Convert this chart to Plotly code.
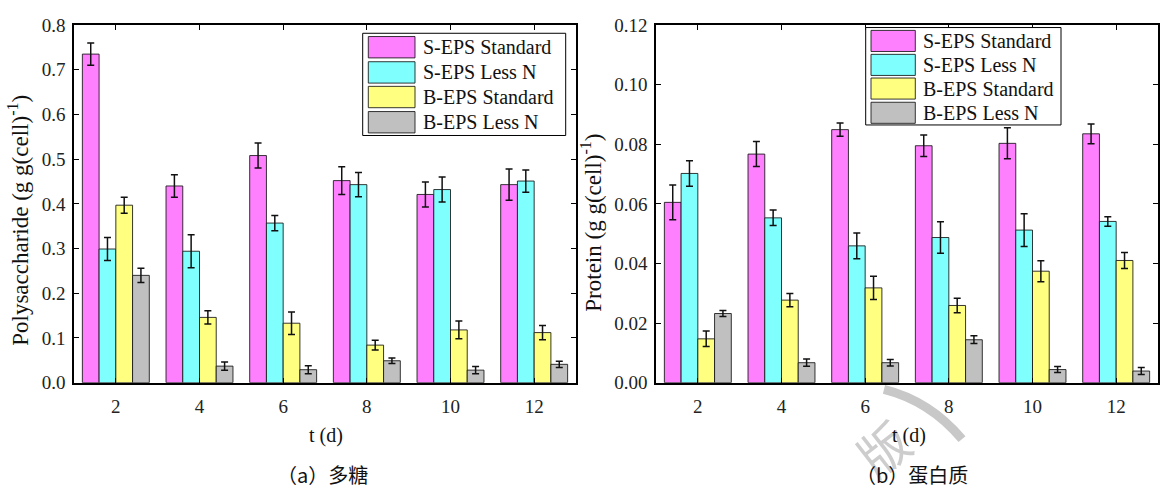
import plotly.graph_objects as go

# Sampling days (x axis)
days = [2, 4, 6, 8, 10, 12]
series_names = ["S-EPS Standard", "S-EPS Less N", "B-EPS Standard", "B-EPS Less N"]
fill_colors = ["#FF80FF", "#80FFFF", "#FFFF80", "#C0C0C0"]

# (a) polysaccharide, g g(cell)^-1
poly_s_std = [0.735, 0.440, 0.508, 0.452, 0.421, 0.443]
poly_s_lessn = [0.299, 0.294, 0.357, 0.443, 0.432, 0.451]
poly_b_std = [0.397, 0.146, 0.133, 0.084, 0.118, 0.112]
poly_b_lessn = [0.240, 0.037, 0.029, 0.049, 0.028, 0.041]
poly_s_std_err = [0.025, 0.025, 0.028, 0.031, 0.028, 0.035]
poly_s_lessn_err = [0.026, 0.037, 0.017, 0.027, 0.028, 0.025]
poly_b_std_err = [0.018, 0.015, 0.025, 0.011, 0.020, 0.016]
poly_b_lessn_err = [0.016, 0.009, 0.009, 0.006, 0.008, 0.007]

# (b) protein, g g(cell)^-1
prot_s_std = [0.0605, 0.0767, 0.0849, 0.0795, 0.0803, 0.0835]
prot_s_lessn = [0.0702, 0.0553, 0.0459, 0.0487, 0.0512, 0.0541]
prot_b_std = [0.0147, 0.0277, 0.0318, 0.0259, 0.0374, 0.0410]
prot_b_lessn = [0.0232, 0.0067, 0.0067, 0.0144, 0.0044, 0.0039]
prot_s_std_err = [0.0058, 0.0042, 0.0022, 0.0036, 0.0052, 0.0033]
prot_s_lessn_err = [0.0043, 0.0026, 0.0043, 0.0053, 0.0055, 0.0016]
prot_b_std_err = [0.0026, 0.0022, 0.0039, 0.0024, 0.0035, 0.0027]
prot_b_lessn_err = [0.0010, 0.0012, 0.0011, 0.0013, 0.0010, 0.0012]

poly_vals = [poly_s_std, poly_s_lessn, poly_b_std, poly_b_lessn]
poly_errs = [poly_s_std_err, poly_s_lessn_err, poly_b_std_err, poly_b_lessn_err]
prot_vals = [prot_s_std, prot_s_lessn, prot_b_std, prot_b_lessn]
prot_errs = [prot_s_std_err, prot_s_lessn_err, prot_b_std_err, prot_b_lessn_err]

W, H = 1161, 500
SERIF = "Times New Roman"
CJK = "Noto Sans CJK SC"


def px(x):
    return x / W


def py(y):
    return 1 - y / H


fig = go.Figure()

for vals, errs, xa, ya in [(poly_vals, poly_errs, "x", "y"), (prot_vals, prot_errs, "x2", "y2")]:
    for name, color, v, e in zip(series_names, fill_colors, vals, errs):
        fig.add_trace(go.Bar(
            x=days, y=v, name=name, xaxis=xa, yaxis=ya,
            marker=dict(color=color, line=dict(color="rgba(20,20,20,0.85)", width=1)),
            error_y=dict(type="data", array=e, visible=True, color="#111111",
                         thickness=1.5, width=3.5),
            showlegend=False,
        ))

axis_common = dict(
    showline=True, linecolor="black", linewidth=1.5, mirror="ticks",
    ticks="inside", ticklen=5, tickwidth=1, tickcolor="black",
    showgrid=False, zeroline=False,
    tickfont=dict(family="Times New Roman, Liberation Serif, serif", size=19, color="#222"),
)

plot_top, plot_bot = 15.7, 389.0
left_x0, left_x1 = 74.0, 576.0
right_x0, right_x1 = 656.0, 1158.0

fig.update_layout(
    width=W, height=H,
    margin=dict(l=0, r=0, t=0, b=0),
    font=dict(family="Times New Roman, Liberation Serif, serif", color="#222"),
    paper_bgcolor="white", plot_bgcolor="white",
    barmode="group", bargap=0.2, bargroupgap=0,
    xaxis=dict(domain=[px(left_x0), px(left_x1)], range=[1, 13],
               tickvals=days, anchor="y", ticklabelstandoff=6, **axis_common),
    yaxis=dict(domain=[py(plot_bot), py(plot_top)], range=[0, 0.8], dtick=0.1,
               tickformat=".1f", anchor="x", ticklabelstandoff=3, **axis_common),
    xaxis2=dict(domain=[px(right_x0), px(right_x1)], range=[1, 13],
                tickvals=days, anchor="y2", ticklabelstandoff=6, **axis_common),
    yaxis2=dict(domain=[py(plot_bot), py(plot_top)], range=[0, 0.12], dtick=0.02,
                tickformat=".2f", anchor="x2", ticklabelstandoff=3, **axis_common),
    showlegend=False,
)

shapes = []
annotations = []

# Faint publisher stamp partly showing under panel (b)
shapes.append(dict(type="path", xref="paper", yref="paper", layer="below",
                   path="M {:.4f},{:.4f} Q {:.4f},{:.4f} {:.4f},{:.4f}".format(
                       px(884), py(396), px(930), py(408), px(962), py(448)),
                   line=dict(color="#c8c8c8", width=9)))
annotations.append(dict(xref="paper", yref="paper", x=px(882), y=py(456),
                        xanchor="center", yanchor="middle", showarrow=False,
                        textangle=-38, text="版",
                        font=dict(family=CJK, size=50, color="#cdcdcd")))

# Boxed legends drawn with wide swatches, one per panel
legend_specs = [
    dict(box=(362.7, 565.7, 24.3, 131.0), sw_x=(368.3, 415.0), tops=[27.7, 54.0, 79.7, 106.0],
         sw_h=22.3, text_x=420.7),
    dict(box=(865.7, 1061.0, 18.3, 120.0), sw_x=(871.0, 915.3), tops=[21.3, 46.3, 71.0, 96.3],
         sw_h=22.0, text_x=920.7),
]
for spec in legend_specs:
    bx0, bx1, by0, by1 = spec["box"]
    shapes.append(dict(type="rect", xref="paper", yref="paper",
                       x0=px(bx0), x1=px(bx1), y0=py(by1), y1=py(by0),
                       line=dict(color="black", width=1), fillcolor="white", layer="above"))
    for name, color, top in zip(series_names, fill_colors, spec["tops"]):
        shapes.append(dict(type="rect", xref="paper", yref="paper",
                           x0=px(spec["sw_x"][0]), x1=px(spec["sw_x"][1]),
                           y0=py(top + spec["sw_h"]), y1=py(top),
                           line=dict(color="rgba(20,20,20,0.85)", width=1),
                           fillcolor=color, layer="above"))
        annotations.append(dict(xref="paper", yref="paper",
                                x=px(spec["text_x"]), y=py(top + spec["sw_h"] / 2),
                                xanchor="left", yanchor="middle", showarrow=False,
                                text=name, font=dict(family=SERIF, size=20, color="#111")))

# Axis titles and panel captions
annotations += [
    dict(xref="paper", yref="paper", x=px(19), y=py(220), textangle=-90,
         xanchor="center", yanchor="middle", showarrow=False,
         text="Polysaccharide (g g(cell)<sup>-1</sup>)",
         font=dict(family=SERIF, size=23, color="#111")),
    dict(xref="paper", yref="paper", x=px(592), y=py(222), textangle=-90,
         xanchor="center", yanchor="middle", showarrow=False,
         text="Protein (g g(cell)<sup>-1</sup>)",
         font=dict(family=SERIF, size=23, color="#111")),
    dict(xref="paper", yref="paper", x=px(326), y=py(444),
         xanchor="center", yanchor="middle", showarrow=False,
         text="t (d)", font=dict(family=SERIF, size=20, color="#111")),
    dict(xref="paper", yref="paper", x=px(909), y=py(444),
         xanchor="center", yanchor="middle", showarrow=False,
         text="t (d)", font=dict(family=SERIF, size=20, color="#111")),
    dict(xref="paper", yref="paper", x=px(322), y=py(485),
         xanchor="center", yanchor="middle", showarrow=False,
         text="（a）多糖", font=dict(family=CJK, size=20, color="#111")),
    dict(xref="paper", yref="paper", x=px(912), y=py(485),
         xanchor="center", yanchor="middle", showarrow=False,
         text="（b）蛋白质", font=dict(family=CJK, size=20, color="#111")),
]

fig.update_layout(shapes=shapes, annotations=annotations)
fig.write_html("out.html")
